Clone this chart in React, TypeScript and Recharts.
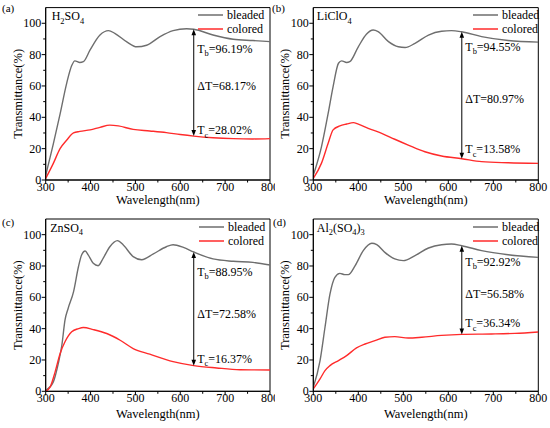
import {
  Legend,
  Line,
  LineChart,
  ReferenceArea,
  ReferenceDot,
  ReferenceLine,
  XAxis,
  YAxis,
} from "recharts";

const FONT = "Liberation Serif, Times New Roman, DejaVu Serif, serif";
const GRAY = "#6e6e6e";
const RED = "#ff2b2b";

const wavelengthTicks = [300, 350, 400, 450, 500, 550, 600, 650, 700, 750, 800];
const transmittanceTicks = [0, 10, 20, 30, 40, 50, 60, 70, 80, 90, 100];
const seriesNames = ["bleaded", "colored"];
const electrolytes = ["H_{2}SO_{4}", "LiClO_{4}", "ZnSO_{4}", "Al_{2}(SO_{4})_{3}"];
const panelLetters = ["(a)", "(b)", "(c)", "(d)"];
const tbValues = [96.19, 94.55, 88.95, 92.92];
const tcValues = [28.02, 13.58, 16.37, 36.34];
const deltaValues = [68.17, 80.97, 72.58, 56.58];
const markWavelength = 630;

// (a) H2SO4
const bleachedA = [
  { wl: 300, t: 3 }, { wl: 317, t: 23 }, { wl: 332, t: 42 }, { wl: 347, t: 62 },
  { wl: 358, t: 73 }, { wl: 365, t: 76 }, { wl: 376, t: 75 }, { wl: 384, t: 75.5 },
  { wl: 399, t: 83 }, { wl: 421, t: 92.5 }, { wl: 440, t: 95.3 }, { wl: 454, t: 93.6 },
  { wl: 480, t: 88.3 }, { wl: 503, t: 85 }, { wl: 525, t: 86 }, { wl: 555, t: 91.5 },
  { wl: 584, t: 95.3 }, { wl: 614, t: 96.5 }, { wl: 630, t: 96.19 }, { wl: 673, t: 92.5 },
  { wl: 718, t: 89.8 }, { wl: 762, t: 89 }, { wl: 800, t: 88.3 },
];
const coloredA = [
  { wl: 300, t: 1 }, { wl: 317, t: 10.6 }, { wl: 332, t: 20 }, { wl: 347, t: 25.5 },
  { wl: 362, t: 30 }, { wl: 376, t: 31 }, { wl: 399, t: 32 }, { wl: 421, t: 33.6 },
  { wl: 443, t: 35 }, { wl: 462, t: 34.5 }, { wl: 495, t: 32.3 }, { wl: 532, t: 31.3 },
  { wl: 569, t: 30.2 }, { wl: 600, t: 29 }, { wl: 630, t: 28.02 }, { wl: 673, t: 27 },
  { wl: 718, t: 26.4 }, { wl: 762, t: 26.2 }, { wl: 800, t: 26.4 },
];

// (b) LiClO4
const bleachedB = [
  { wl: 300, t: 3 }, { wl: 318, t: 21 }, { wl: 333, t: 42.5 }, { wl: 344, t: 59.6 },
  { wl: 356, t: 74.5 }, { wl: 363, t: 76 }, { wl: 374, t: 75 }, { wl: 381, t: 75.5 },
  { wl: 400, t: 85 }, { wl: 418, t: 93 }, { wl: 433, t: 95.7 }, { wl: 444, t: 94.7 },
  { wl: 467, t: 88.3 }, { wl: 489, t: 85 }, { wl: 504, t: 84.5 }, { wl: 526, t: 87.2 },
  { wl: 556, t: 92.5 }, { wl: 585, t: 94.9 }, { wl: 607, t: 95.3 }, { wl: 630, t: 94.55 },
  { wl: 674, t: 91.5 }, { wl: 733, t: 89 }, { wl: 800, t: 88 },
];
const coloredB = [
  { wl: 300, t: 1 }, { wl: 318, t: 10.6 }, { wl: 333, t: 23.4 }, { wl: 344, t: 32 },
  { wl: 359, t: 34.5 }, { wl: 374, t: 35.7 }, { wl: 389, t: 36.6 }, { wl: 400, t: 35.7 },
  { wl: 422, t: 33 }, { wl: 452, t: 29.8 }, { wl: 481, t: 26 }, { wl: 511, t: 22.3 },
  { wl: 548, t: 18 }, { wl: 585, t: 15.3 }, { wl: 630, t: 13.58 }, { wl: 674, t: 11.7 },
  { wl: 733, t: 11 }, { wl: 800, t: 10.6 },
];

// (c) ZnSO4
const bleachedC = [
  { wl: 300, t: 0.6 }, { wl: 317, t: 6 }, { wl: 328, t: 17.7 }, { wl: 336, t: 29.4 },
  { wl: 343, t: 45.4 }, { wl: 350, t: 52.9 }, { wl: 362, t: 63.5 }, { wl: 373, t: 79.5 },
  { wl: 380, t: 87 }, { wl: 388, t: 89.6 }, { wl: 395, t: 87 }, { wl: 406, t: 81.7 },
  { wl: 417, t: 80.2 }, { wl: 428, t: 84.9 }, { wl: 443, t: 92.3 }, { wl: 460, t: 96.2 },
  { wl: 473, t: 93.4 }, { wl: 495, t: 86 }, { wl: 514, t: 84 }, { wl: 540, t: 87.7 },
  { wl: 569, t: 92.3 }, { wl: 584, t: 93.6 }, { wl: 607, t: 91.9 }, { wl: 630, t: 88.95 },
  { wl: 673, t: 84.5 }, { wl: 718, t: 83 }, { wl: 762, t: 82.3 }, { wl: 800, t: 80.6 },
];
const coloredC = [
  { wl: 300, t: 0 }, { wl: 310, t: 2.8 }, { wl: 321, t: 12.4 }, { wl: 332, t: 24 },
  { wl: 343, t: 31.6 }, { wl: 358, t: 38 }, { wl: 373, t: 40 }, { wl: 384, t: 40.7 },
  { wl: 406, t: 39.4 }, { wl: 436, t: 36.9 }, { wl: 466, t: 32.6 }, { wl: 495, t: 27.3 },
  { wl: 532, t: 23.7 }, { wl: 584, t: 18.9 }, { wl: 630, t: 16.37 }, { wl: 681, t: 14.9 },
  { wl: 733, t: 13.8 }, { wl: 800, t: 13.6 },
];

// (d) Al2(SO4)3
const bleachedD = [
  { wl: 300, t: 2.5 }, { wl: 315, t: 19.6 }, { wl: 326, t: 40.9 }, { wl: 337, t: 62 },
  { wl: 348, t: 72.8 }, { wl: 359, t: 75.3 }, { wl: 370, t: 74.5 }, { wl: 378, t: 74.5 },
  { wl: 393, t: 80.2 }, { wl: 411, t: 89.8 }, { wl: 430, t: 94.5 }, { wl: 441, t: 93.6 },
  { wl: 459, t: 88.7 }, { wl: 481, t: 84.5 }, { wl: 500, t: 83.4 }, { wl: 526, t: 86.6 },
  { wl: 556, t: 91.5 }, { wl: 585, t: 93.6 }, { wl: 607, t: 94 }, { wl: 630, t: 92.92 },
  { wl: 674, t: 89.8 }, { wl: 733, t: 87.2 }, { wl: 800, t: 85.5 },
];
const coloredD = [
  { wl: 300, t: 1.5 }, { wl: 315, t: 7.9 }, { wl: 326, t: 13.2 }, { wl: 337, t: 16.4 },
  { wl: 356, t: 19.6 }, { wl: 374, t: 22.8 }, { wl: 396, t: 27.7 }, { wl: 415, t: 30.2 },
  { wl: 437, t: 32.3 }, { wl: 459, t: 34.5 }, { wl: 481, t: 34.9 }, { wl: 511, t: 34 },
  { wl: 541, t: 34.5 }, { wl: 585, t: 35.7 }, { wl: 630, t: 36.34 }, { wl: 696, t: 36.6 },
  { wl: 748, t: 37 }, { wl: 800, t: 37.9 },
];

const bleachedSeries = [bleachedA, bleachedB, bleachedC, bleachedD];
const coloredSeries = [coloredA, coloredB, coloredC, coloredD];

// where things sit in each 275x214 panel
const layouts = [
  { left: 0, top: 0, mTop: 7.6, mRight: 5, yW: 45.7, xH: 34, yLabelX: 17.5, legLeft: 198, legTop: 8, titleDx: 6, textY: [84, 60, 31.8], letterX: 2, letterY: 3 },
  { left: 275, top: 0, mTop: 7.6, mRight: 11.7, yW: 38.3, xH: 34, yLabelX: 9.5, legLeft: 198, legTop: 8, titleDx: 3.5, textY: [85, 51.7, 19.6], letterX: 272, letterY: 3 },
  { left: 0, top: 214, mTop: 5, mRight: 5, yW: 45.7, xH: 36.7, yLabelX: 17.5, legLeft: 199, legTop: 5.5, titleDx: 4.5, textY: [76.6, 49.4, 21], letterX: 2, letterY: 217 },
  { left: 275, top: 214, mTop: 5, mRight: 11.7, yW: 38.3, xH: 36.7, yLabelX: 9.5, legLeft: 198, legTop: 5.5, titleDx: 3.5, textY: [82.8, 62, 43.6], letterX: 273, letterY: 217 },
];

function splitSub(value: string) {
  const parts: { text: string; sub: boolean }[] = [];
  const re = /_\{([^}]*)\}/g;
  let last = 0;
  let m: RegExpExecArray | null;
  while ((m = re.exec(value))) {
    if (m.index > last) parts.push({ text: value.slice(last, m.index), sub: false });
    parts.push({ text: m[1], sub: true });
    last = re.lastIndex;
  }
  if (last < value.length) parts.push({ text: value.slice(last), sub: false });
  return parts;
}

// text centred on y, with _{...} drawn as subscript
function RichText({ x, y, value, size = 12 }: { x: number; y: number; value: string; size?: number }) {
  let down = false;
  return (
    <text x={x} y={y + size * 0.35} fontSize={size} fontFamily={FONT} fill="#000">
      {splitSub(value).map((p, i) => {
        let dy = 0;
        if (p.sub && !down) {
          dy = size * 0.28;
          down = true;
        } else if (!p.sub && down) {
          dy = -size * 0.28;
          down = false;
        }
        return (
          <tspan key={i} dy={dy} fontSize={p.sub ? size * 0.7 : size}>
            {p.text}
          </tspan>
        );
      })}
    </text>
  );
}

function XTick({ x, y, payload }: any) {
  const major = payload.value % 100 === 0;
  return (
    <g>
      <line x1={x} y1={y} x2={x} y2={y + (major ? 4 : 2.5)} stroke="#000" />
      {major ? (
        <text x={x} y={y + 2} dy="0.75em" textAnchor="middle" fontSize={12} fontFamily={FONT} fill="#000">
          {payload.value}
        </text>
      ) : null}
    </g>
  );
}

function YTick({ x, y, payload }: any) {
  const major = payload.value % 20 === 0;
  return (
    <g>
      <line x1={x} y1={y} x2={x - (major ? 4 : 2.5)} y2={y} stroke="#000" />
      {major ? (
        <text x={x - 4.5} y={y} dy="0.34em" textAnchor="end" fontSize={12} fontFamily={FONT} fill="#000">
          {payload.value}
        </text>
      ) : null}
    </g>
  );
}

function Arrow(props: any) {
  const { x1, y1, y2 } = props;
  const top = Math.min(y1, y2);
  const bot = Math.max(y1, y2);
  return (
    <g>
      <line x1={x1} y1={top + 4} x2={x1} y2={bot - 4} stroke="#000" strokeWidth={1} />
      <polygon points={`${x1},${top} ${x1 - 2.3},${top + 6} ${x1 + 2.3},${top + 6}`} fill="#000" />
      <polygon points={`${x1},${bot} ${x1 - 2.3},${bot - 6} ${x1 + 2.3},${bot - 6}`} fill="#000" />
    </g>
  );
}

function LegendBox({ payload }: any) {
  return (
    <div style={{ fontFamily: FONT, fontSize: 12, color: "#000" }}>
      {(payload ?? []).map((e: any) => (
        <div key={e.value} style={{ display: "flex", alignItems: "center", height: 14 }}>
          <svg width={25} height={4} style={{ display: "block" }}>
            <line x1={0} y1={2} x2={25} y2={2} stroke={e.color} strokeWidth={1.5} />
          </svg>
          <span style={{ marginLeft: 4, lineHeight: "14px" }}>{e.value}</span>
        </div>
      ))}
    </div>
  );
}

function Panel({ i }: { i: number }) {
  const lay = layouts[i];
  return (
    <div style={{ position: "absolute", left: lay.left, top: lay.top, width: 275, height: 214 }}>
      <LineChart
        width={275}
        height={214}
        margin={{ top: lay.mTop, right: lay.mRight, bottom: 0, left: 0 }}
        style={{ fontFamily: FONT, overflow: "visible" }}
      >
        <XAxis
          type="number"
          dataKey="wl"
          domain={[300, 800]}
          ticks={wavelengthTicks}
          interval={0}
          height={lay.xH}
          tickSize={0}
          tickMargin={0}
          tickLine={false}
          tick={<XTick />}
          axisLine={{ stroke: "#000" }}
          allowDataOverflow
          label={(p: any) => {
            const vb = p.viewBox ?? p;
            return (
              <text
                x={vb.x + vb.width / 2}
                y={vb.y + vb.height - 10.5}
                textAnchor="middle"
                fontSize={12.5}
                fontFamily={FONT}
                fill="#000"
              >
                Wavelength(nm)
              </text>
            );
          }}
        />
        <YAxis
          type="number"
          domain={[0, 110]}
          ticks={transmittanceTicks}
          interval={0}
          width={lay.yW}
          tickSize={0}
          tickMargin={0}
          tickLine={false}
          tick={<YTick />}
          axisLine={{ stroke: "#000" }}
          allowDataOverflow
          label={(p: any) => {
            const vb = p.viewBox ?? p;
            const cx = vb.x + lay.yLabelX;
            const cy = vb.y + vb.height / 2;
            return (
              <text
                x={cx}
                y={cy}
                dy="0.35em"
                textAnchor="middle"
                transform={`rotate(-90, ${cx}, ${cy})`}
                fontSize={12.5}
                fontFamily={FONT}
                fill="#000"
              >
                Transmittance(%)
              </text>
            );
          }}
        />
        <ReferenceArea x1={300} x2={800} y1={0} y2={110} fill="none" stroke="#000" strokeWidth={1} />
        <Line
          data={bleachedSeries[i]}
          dataKey="t"
          name={seriesNames[0]}
          type="monotone"
          stroke={GRAY}
          strokeWidth={1.4}
          dot={false}
          isAnimationActive={false}
        />
        <Line
          data={coloredSeries[i]}
          dataKey="t"
          name={seriesNames[1]}
          type="monotone"
          stroke={RED}
          strokeWidth={1.4}
          dot={false}
          isAnimationActive={false}
        />
        <ReferenceLine
          segment={[
            { x: markWavelength, y: tbValues[i] },
            { x: markWavelength, y: tcValues[i] },
          ]}
          shape={<Arrow />}
        />
        <ReferenceDot
          x={300}
          y={110}
          r={0}
          shape={(p: any) => <RichText x={p.cx + lay.titleDx} y={p.cy + 8.4} value={electrolytes[i]} size={12} />}
        />
        <ReferenceDot
          x={markWavelength}
          y={lay.textY[0]}
          r={0}
          shape={(p: any) => <RichText x={p.cx + 3.5} y={p.cy} value={`T_{b}=${tbValues[i].toFixed(2)}%`} />}
        />
        <ReferenceDot
          x={markWavelength}
          y={lay.textY[1]}
          r={0}
          shape={(p: any) => <RichText x={p.cx + 3.5} y={p.cy} value={`ΔT=${deltaValues[i].toFixed(2)}%`} />}
        />
        <ReferenceDot
          x={markWavelength}
          y={lay.textY[2]}
          r={0}
          shape={(p: any) => <RichText x={p.cx + 3.5} y={p.cy} value={`T_{c}=${tcValues[i].toFixed(2)}%`} />}
        />
        <Legend
          layout="horizontal"
          verticalAlign="middle"
          align="center"
          wrapperStyle={{ top: lay.legTop, left: lay.legLeft, width: 76, height: 28 }}
          content={<LegendBox />}
        />
      </LineChart>
    </div>
  );
}

export default function App() {
  return (
    <div
      style={{
        position: "absolute",
        left: 0,
        top: 0,
        width: 550,
        height: 428,
        background: "#fff",
        fontFamily: FONT,
        overflow: "hidden",
      }}
    >
      {[0, 1, 2, 3].map((i) => (
        <Panel key={i} i={i} />
      ))}
      {panelLetters.map((letter, i) => (
        <div
          key={letter}
          style={{
            position: "absolute",
            left: layouts[i].letterX,
            top: layouts[i].letterY,
            fontSize: 11,
            lineHeight: "11px",
            color: "#000",
          }}
        >
          {letter}
        </div>
      ))}
    </div>
  );
}
